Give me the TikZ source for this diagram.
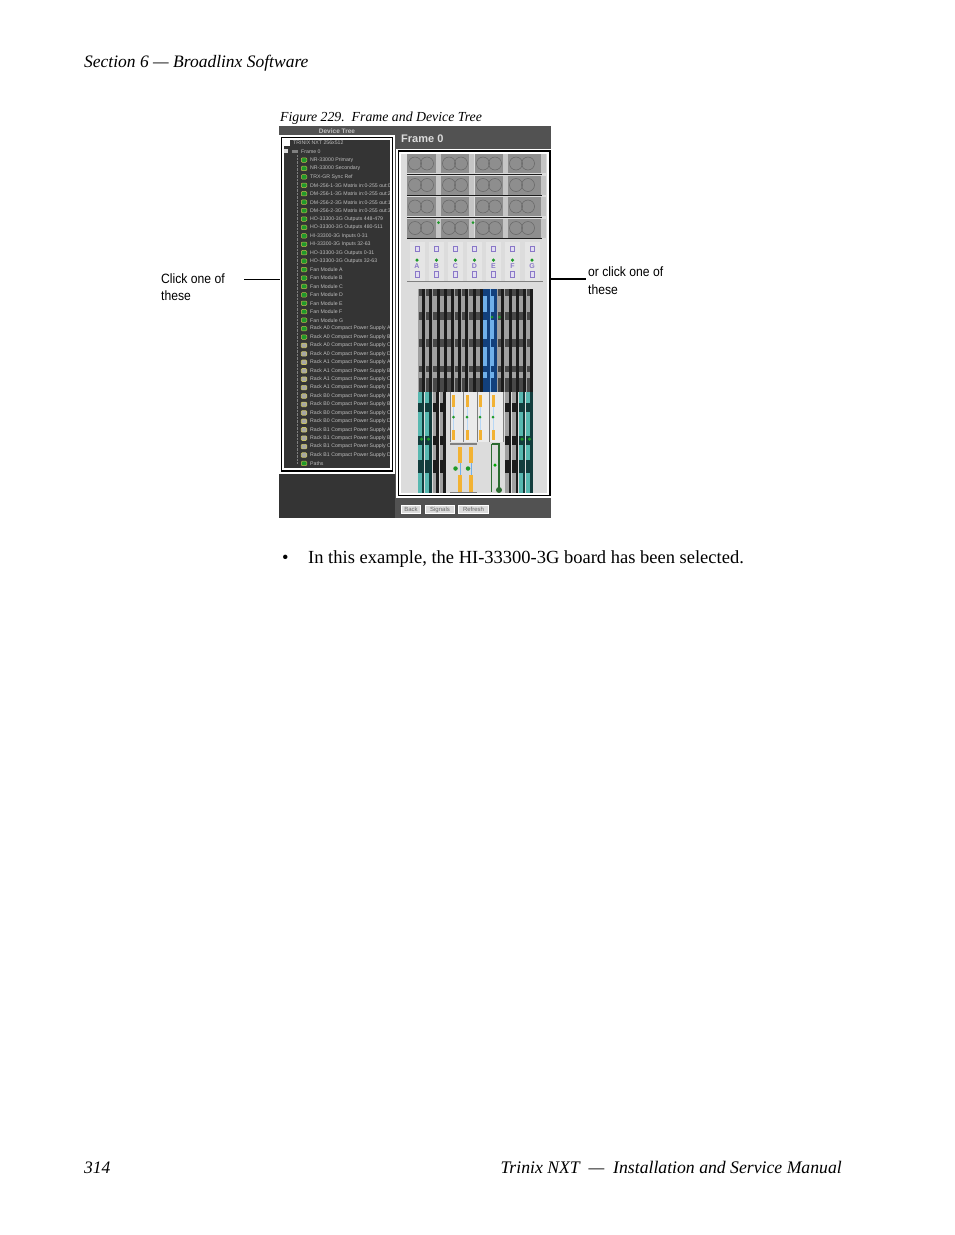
\documentclass[tikz,border=0pt]{standalone}
\usepackage{fontspec}
\setmainfont{Liberation Serif}
\newfontfamily\calloutfont[FakeStretch=0.90]{Liberation Sans}
\newfontfamily\screenfont{Liberation Sans}
\definecolor{paneldark}{HTML}{343434}
\definecolor{panelgrey}{HTML}{525252}
\definecolor{framelight}{HTML}{DCDCDC}
\definecolor{fangrey}{HTML}{8E8E8E}
\definecolor{fanline}{HTML}{666666}
\definecolor{cardgrey}{HTML}{A0A0A0}
\definecolor{cardband}{HTML}{484848}
\definecolor{slotblack}{HTML}{1C1C1C}
\definecolor{cardblue}{HTML}{6FB0EA}
\definecolor{bladeblue}{HTML}{12407C}
\definecolor{cardteal}{HTML}{58B8B0}
\definecolor{bladeteal}{HTML}{123C3C}
\definecolor{psuorange}{HTML}{F2B233}
\definecolor{psugreen}{HTML}{1F9A2A}
\definecolor{darkgreen}{HTML}{2B6B30}
\definecolor{psupurple}{HTML}{8A78C8}
\definecolor{treetextgrey}{HTML}{BEBEBE}
\tikzset{
  x=1pt,y=-1pt,
  pagetext/.style={anchor=base west,inner sep=0pt,font=\fontsize{17.5}{20}\selectfont\itshape},
  bodytext/.style={anchor=base west,inner sep=0pt,font=\fontsize{18.5}{20}\selectfont},
  callout/.style={anchor=north west,inner sep=0pt,align=left,font=\calloutfont\fontsize{13.5}{17.5}\selectfont},
  treetext/.style={anchor=west,inner sep=0pt,text=treetextgrey,font=\screenfont\fontsize{5.2}{6}\selectfont},
  iconon/.style={fill=psugreen,draw=olive!60!white,line width=.5pt,rounded corners=1pt,minimum width=5.5pt,minimum height=4.5pt,inner sep=0pt},
  iconoff/.style={fill=gray!70!white,draw=olive!50!white,line width=.7pt,rounded corners=1pt,minimum width=5.5pt,minimum height=4.5pt,inner sep=0pt},
  psubox/.style={fill=white!90!black,minimum width=15pt,minimum height=39pt,inner sep=0pt},
  psuletter/.style={inner sep=0pt,text=psupurple,font=\screenfont\bfseries\fontsize{7}{7}\selectfont},
  button/.style={fill=framelight,draw=white,line width=.8pt,minimum height=8.5pt,inner sep=0pt,text=gray!80!black,font=\screenfont\fontsize{6}{6}\selectfont},
  greendot/.style={circle,fill=psugreen,inner sep=0pt,minimum size=#1},
  greendot/.default=3pt
}
\begin{document}
\begin{tikzpicture}
\useasboundingbox[fill=white] (0,0) rectangle (954,1235);
%page text
\node[pagetext] (sectionhead) at (84,67) {Section 6 --- Broadlinx Software};
\node[pagetext,font=\fontsize{13.8}{16}\selectfont\itshape] (caption) at (280,121) {Figure 229.\ \ Frame and Device Tree};
\node[bodytext] (bullet) at (282,563) {•};
\node[bodytext] (example) at (308,563) {In this example, the HI-33300-3G board has been selected.};
\node[pagetext] (pagenum) at (84,1173) {314};
\node[pagetext,anchor=base east,font=\fontsize{17.7}{20}\selectfont\itshape] (manual) at (842,1173) {Trinix NXT \ --- \ Installation and Service Manual};
%screenshot panels
\fill[paneldark] (279,126) rectangle (395,518);
\fill[panelgrey] (279,126) rectangle (395,135);
\fill[panelgrey] (395,126) rectangle (551,518);
\fill[framelight] (400,153) rectangle (549,495);
\node[inner sep=0pt,text=treetextgrey,font=\screenfont\bfseries\fontsize{6.5}{7}\selectfont] (treehead) at (337,131) {Device Tree};
\node[anchor=west,inner sep=0pt,text=framelight,font=\screenfont\bfseries\fontsize{11}{12}\selectfont] (framehead) at (401,139) {Frame 0};
%device tree
\draw[gray,densely dotted,line width=.4pt] (297,155) -- (297,464);
\fill[white] (284,140) rectangle (290,146);
\fill[framelight] (284,149) rectangle (288,153);
\fill[gray] (292,149.5) rectangle (298,153);
\node[treetext] (treeroot) at (293,143) {TRINIX NXT 256x512};
\node[treetext] (treeframe) at (301,151.5) {Frame 0};
\begin{scope}
\clip (281,135) rectangle (391,472);
\foreach \lbl [count=\n from 0] in {NR-33000 Primary,NR-33000 Secondary,TRX-GR Sync Ref,
  DM-256-1-3G Matrix in:0-255 out:0-127,DM-256-1-3G Matrix in:0-255 out:256-383,
  DM-256-2-3G Matrix in:0-255 out:128-255,DM-256-2-3G Matrix in:0-255 out:384-511,
  HO-33300-3G Outputs 448-479,HO-33300-3G Outputs 480-511,HI-33300-3G Inputs 0-31,
  HI-33300-3G Inputs 32-63,HO-33300-3G Outputs 0-31,HO-33300-3G Outputs 32-63,
  Fan Module A,Fan Module B,Fan Module C,Fan Module D,Fan Module E,Fan Module F,Fan Module G,
  Rack A0 Compact Power Supply A,Rack A0 Compact Power Supply B,Rack A0 Compact Power Supply C,Rack A0 Compact Power Supply D,
  Rack A1 Compact Power Supply A,Rack A1 Compact Power Supply B,Rack A1 Compact Power Supply C,Rack A1 Compact Power Supply D,
  Rack B0 Compact Power Supply A,Rack B0 Compact Power Supply B,Rack B0 Compact Power Supply C,Rack B0 Compact Power Supply D,
  Rack B1 Compact Power Supply A,Rack B1 Compact Power Supply B,Rack B1 Compact Power Supply C,Rack B1 Compact Power Supply D,
  Paths}{
  \node[treetext] (row\n) at (310,{160+8.43*\n}) {\lbl};
}
\end{scope}
\foreach \n in {0,...,21,36}
  \node[iconon] (icon\n) at (304,{160+8.43*\n}) {};
\foreach \n in {22,...,35}
  \node[iconoff] (icon\n) at (304,{160+8.43*\n}) {};
%fans
\foreach \r/\y in {0/154,1/175.5,2/197,3/218.5}{
  \foreach \c/\x/\w in {0/407/29,1/441/28,2/475/28,3/508/33}{
    \fill[fangrey] (\x,\y) rectangle ++(\w,19);
    \draw[fanline,line width=.5pt] (\x+8,\y+9.5) circle (6.5);
    \draw[fanline,line width=.5pt] (\x+20,\y+9.5) circle (6.5);
    \fill[framelight!75!gray] (\x+\w,\y) rectangle ++(5,19);
  }
  \draw[slotblack,line width=1pt] (407,\y+20) -- (542,\y+20);
}
\node[greendot=3pt] (fandota) at (438.5,222.5) {};
\node[greendot=3pt] (fandotb) at (473,222.5) {};
%power modules
\foreach \x/\l in {417/A,436.5/B,455.5/C,474.5/D,493.5/E,512.5/F,532/G}{
  \node[psubox] (psu\l) at (\x,261.5) {};
  \draw[psupurple,fill=psupurple!25!white,line width=.7pt] (\x-2,246) rectangle ++(4,5);
  \node[greendot=3.5pt] (psudot\l) at (\x,260) {};
  \node[psuletter] (psulet\l) at (\x,266.5) {\l};
  \draw[psupurple,fill=psupurple!25!white,line width=.7pt] (\x-2,271) rectangle ++(4,6);
}
\draw[gray,line width=.6pt] (407,281.5) -- (543,281.5);
%upper cards
\foreach \i in {0,...,15}{
  \pgfmathsetmacro{\x}{418+7.2*\i}
  \ifnum\i=9 \def\cardcol{cardblue}\def\bladecol{bladeblue}\def\bandcol{bladeblue}\else
  \ifnum\i=10 \def\cardcol{cardblue}\def\bladecol{bladeblue}\def\bandcol{bladeblue}\else
  \def\cardcol{cardgrey}\def\bladecol{slotblack}\def\bandcol{cardband}\fi\fi
  \fill[\cardcol] (\x,289) rectangle ++(4.2,103);
  \fill[\bladecol] (\x+4.2,289) rectangle ++(3,103);
  \foreach \ya/\yb in {289/296,312/320,339/347,366/372,378/392}
    \fill[\bandcol] (\x+.6,\ya) rectangle (\x+4.2,\yb);
}
\node[greendot=3pt] (selecteda) at (492,317) {};
\node[greendot=3pt] (selectedb) at (499.5,317) {};
%lower cards, outer pairs
\foreach \x/\cardcol/\bladecol in {418/cardteal/bladeteal,425.2/cardteal/bladeteal,432.8/cardgrey/slotblack,439.6/cardgrey/slotblack,
  505/cardgrey/slotblack,512/cardgrey/slotblack,519/cardteal/bladeteal,526.4/cardteal/bladeteal}{
  \fill[\cardcol] (\x,392) rectangle ++(3.6,101);
  \fill[\bladecol] (\x+3.6,392) rectangle ++(2.8,101);
  \foreach \ya/\yb in {403/412,436/445,460/473}
    \fill[\bladecol] (\x,\ya) rectangle (\x+3.6,\yb);
}
\foreach \x/\n in {421.5/a,428.5/b,522/c,529.5/d}
  \node[greendot=3.5pt] (tealdot\n) at (\x,439) {};
%lower cards, middle
\fill[white!92!black] (450,392) rectangle (503,442);
\foreach \x in {450,463,477,489,503}
  \draw[gray,line width=1pt] (\x,392) -- (\x,442);
\foreach \x/\n in {453.5/a,467/b,480/c,493/d}{
  \draw[cardblue!50!white,line width=.7pt] (\x,407) -- (\x,430);
  \fill[psuorange] (\x-1.2,395) rectangle (\x+1.8,407);
  \fill[psuorange] (\x-1.2,430) rectangle (\x+1.8,440);
  \node[greendot=3pt] (middot\n) at (\x,417) {};
}
\draw[gray,line width=2pt] (450,444) -- (477,444);
\draw[gray,line width=1pt] (450,492) -- (477,492);
\foreach \x/\n in {460/a,471/b}{
  \draw[cardblue,line width=.8pt] (\x,463) -- (\x,475);
  \fill[psuorange] (\x-2,447) rectangle (\x+2,463);
  \fill[psuorange] (\x-2,475) rectangle (\x+2,492);
}
\node[greendot=4.5pt] (lowdota) at (455.5,468.5) {};
\node[greendot=4.5pt] (lowdotb) at (468,468.5) {};
%green card
\draw[darkgreen,line width=.8pt] (491.5,444) -- (491.5,492);
\draw[darkgreen,line width=2pt] (491.5,444) -- (500,444);
\draw[darkgreen,line width=2pt] (499,444) -- (499,491);
\fill[darkgreen] (499,490) circle (3);
\node[greendot=3.5pt,fill=green!65!black] (greencarddot) at (495,465) {};
%white and black frames
\draw[white,line width=5.5pt] (281.5,137.5) rectangle (392.5,471);
\draw[black,line width=1.6pt] (281.5,137.5) rectangle (392.5,471);
\draw[white,line width=5pt] (398.6,151) rectangle (549.7,495.5);
\draw[black,line width=1.6pt] (398.6,151) rectangle (549.7,495.5);
%buttons
\node[button,minimum width=19pt] (backbtn) at (411,509.5) {Back};
\node[button,minimum width=29pt] (signalsbtn) at (440,509.5) {Signals};
\node[button,minimum width=30pt] (refreshbtn) at (473.5,509.5) {Refresh};
%callouts
\node[callout] (clickone) at (161,273.5) {Click one of\\these};
\node[callout] (clickother) at (588,267) {or click one of\\these};
\coordinate (lefttick) at (244,279.5);
\coordinate (treeedge) at (280,279.5);
\coordinate (frameedge) at (550,278.5);
\coordinate (righttick) at (586,278.5);
\draw[line width=.8pt] (lefttick) -- (treeedge);
\draw[line width=2pt] (frameedge) -- (righttick);
\end{tikzpicture}
\end{document}
